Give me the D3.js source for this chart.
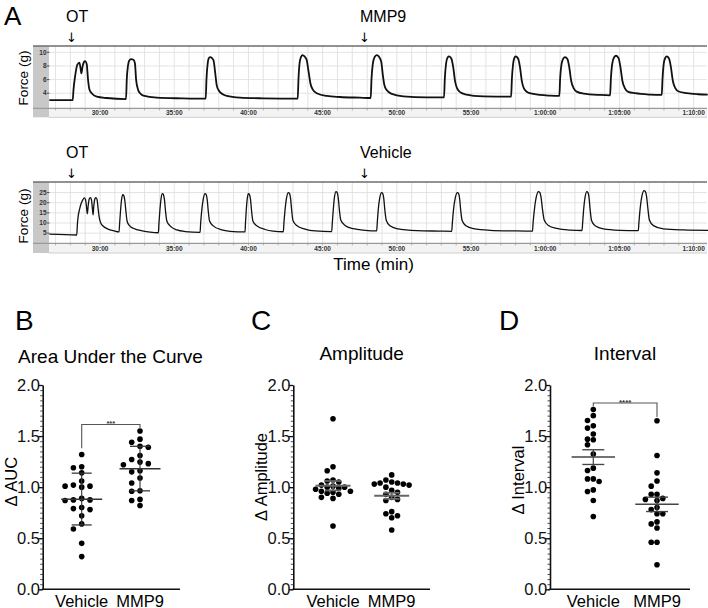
<!DOCTYPE html>
<html><head><meta charset="utf-8">
<script src="https://cdn.jsdelivr.net/npm/d3@7"></script>
<style>body{margin:0;background:#fff}svg{display:block}</style>
</head><body>
<svg id="c" width="708" height="608"></svg>
<script>
// ---------------- DATA ----------------
// Panel A traces: [time (min), force (g)]
const traceMMP9 = [
[26.58,3.0],[28.16,3.0],[28.21,4.5],[28.32,6.5],[28.47,8.2],[28.61,8.5],[28.69,7.6],[28.74,6.9],[28.82,7.9],[28.92,8.6],[28.99,8.7],[29.10,8.3],[29.19,6.0],[29.28,4.6],[29.44,4.0],[29.78,3.5],[30.45,3.3],[31.75,3.15],
[31.80,6.0],[31.88,8.0],[31.97,8.8],[32.09,9.0],[32.25,8.9],[32.35,8.4],[32.43,6.0],[32.55,4.6],[32.70,4.0],[32.92,3.65],[33.82,3.35],[35.5,3.25],[37.12,3.2],
[37.17,6.0],[37.25,8.3],[37.32,9.1],[37.41,9.3],[37.55,9.15],[37.65,8.8],[37.76,7.0],[37.86,5.2],[38.0,4.4],[38.3,3.8],[38.54,3.6],[39.43,3.35],[41.0,3.25],[43.32,3.2],
[43.37,6.0],[43.45,8.5],[43.54,9.3],[43.63,9.6],[43.78,9.4],[43.92,8.9],[44.05,7.2],[44.17,5.5],[44.35,4.5],[44.6,4.0],[45.28,3.6],[46.17,3.45],[47.5,3.35],[48.24,3.3],
[48.29,6.0],[48.38,8.3],[48.5,9.3],[48.64,9.6],[48.8,9.35],[48.95,8.6],[49.06,6.6],[49.16,5.2],[49.3,4.5],[49.66,3.9],[50.44,3.55],[52.0,3.4],[53.18,3.4],
[53.23,6.0],[53.32,8.4],[53.42,9.25],[53.52,9.4],[53.67,9.1],[53.8,7.8],[53.92,5.8],[54.06,4.7],[54.3,4.1],[54.6,3.85],[55.83,3.55],[57.7,3.5],
[57.75,6.0],[57.84,8.4],[57.92,9.2],[58.0,9.4],[58.17,9.1],[58.3,7.8],[58.42,5.8],[58.56,4.7],[58.8,4.15],[59.2,3.9],[60.32,3.65],[60.95,3.6],
[61.0,6.0],[61.1,8.3],[61.22,9.1],[61.33,9.3],[61.5,9.0],[61.62,7.8],[61.75,5.8],[61.9,4.8],[62.15,4.2],[62.57,3.95],[63.69,3.75],[64.37,3.7],
[64.42,6.0],[64.52,8.4],[64.65,9.3],[64.77,9.5],[64.94,9.15],[65.07,7.8],[65.2,5.8],[65.35,4.8],[65.6,4.2],[66.05,4.0],[67.06,3.8],[67.85,3.75],
[67.9,6.0],[67.99,8.4],[68.09,9.2],[68.18,9.4],[68.34,9.1],[68.47,7.8],[68.6,5.8],[68.75,4.8],[69.0,4.25],[69.53,4.0],[70.3,3.85],[70.95,3.8]
];
const traceVehicle = [
[26.58,4.5],[28.43,4.1],
[28.47,9],[28.52,13],[28.61,16.5],[28.72,19.5],[28.83,21.3],[28.94,22.4],[29.02,21.5],[29.08,18.5],[29.14,14.5],[29.2,18.5],[29.27,21.8],[29.34,22.5],[29.42,21.5],[29.48,17.5],[29.53,14],[29.58,18.5],[29.66,22],[29.73,22.5],[29.8,21.5],[29.87,17],[29.95,12.5],[30.05,10],[30.2,8.5],[30.54,7.0],[30.9,6.2],[31.28,5.6],
[31.32,10],[31.38,16],[31.45,21.5],[31.53,24],[31.6,23.5],[31.67,21],[31.74,16],[31.82,11],[31.97,8.8],[32.24,7.4],[32.92,6.0],[33.37,5.5],[33.93,5.2],
[33.97,10],[34.03,16],[34.11,22],[34.2,24.5],[34.27,24],[34.34,21.5],[34.41,16],[34.5,11],[34.72,8.6],[35.17,6.6],[35.73,5.8],[36.74,5.4],
[36.78,10],[36.85,16],[36.96,22],[37.07,24.5],[37.15,24],[37.22,21.5],[37.29,16],[37.38,11],[37.63,8.6],[38.2,6.6],[38.76,5.9],[39.77,5.6],
[39.8,10],[39.85,16],[39.92,22],[39.99,24.5],[40.07,24],[40.14,21.5],[40.21,16],[40.3,11],[40.56,8.6],[41.12,6.8],[41.66,6.0],[42.35,5.7],
[42.39,10],[42.46,16],[42.57,22.5],[42.69,25],[42.77,24.5],[42.84,22],[42.91,16.5],[43.0,11.2],[43.25,8.8],[43.81,7.0],[44.49,6.1],[45.61,5.8],
[45.65,10],[45.71,16],[45.8,23],[45.9,25.5],[45.98,25],[46.05,22.5],[46.12,17],[46.22,11.5],[46.51,8.8],[47.07,7.2],[47.86,6.4],[48.64,6.1],
[48.68,10],[48.74,16],[48.85,22.5],[48.97,25],[49.05,24.5],[49.12,22],[49.19,16.5],[49.29,11.2],[49.54,8.6],[49.99,7.2],[51.34,6.2],[52.91,6.0],[53.7,5.9],
[53.74,10],[53.81,16],[53.94,22.5],[54.08,25],[54.16,24.5],[54.23,22],[54.3,16.5],[54.4,11.2],[54.66,8.6],[55.16,7.2],[56.28,6.4],[57.97,6.1],[59.14,6.0],
[59.18,10],[59.26,16],[59.4,23],[59.54,25.5],[59.64,25],[59.72,22.5],[59.81,17],[59.93,11.5],[60.21,8.8],[60.78,7.3],[61.68,6.5],[62.48,6.3],
[62.52,10],[62.58,16],[62.69,23],[62.8,25.5],[62.88,25],[62.95,22.5],[63.02,17],[63.12,11.2],[63.36,8.6],[63.92,7.1],[65.04,6.4],[66.27,6.2],
[66.31,10],[66.38,16],[66.52,23.5],[66.66,26],[66.75,25.5],[66.83,23],[66.91,17.5],[67.02,11.5],[67.29,8.7],[67.96,7.1],[69.31,6.6],[70.97,6.4]
];
const timeTicks = [30,35,40,45,50,55,60,65,70];
const timeTickLabels = ["30:00","35:00","40:00","45:00","50:00","55:00","1:00:00","1:05:00","1:10:00"];
const forceTicksMMP9 = [4,6,8,10];
const forceTicksVehicle = [5,10,15,20,25];

// Panels B-D
const categories = ["Vehicle","MMP9"];
const aucVehicle = [1.32,1.19,1.20,1.14,1.06,1.01,1.02,1.01,1.00,0.875,0.87,0.875,0.89,0.79,0.78,0.80,0.72,0.64,0.59,0.45,0.32];
const aucMMP9    = [1.55,1.44,1.47,1.39,1.40,1.31,1.27,1.22,1.23,1.245,1.15,1.16,1.09,1.04,0.96,0.965,0.88,0.87,0.82];
const ampVehicle = [1.67,1.20,1.16,1.07,1.06,1.05,1.02,1.01,1.00,1.00,0.99,0.98,0.96,0.96,0.95,0.94,0.93,0.90,0.89,0.62];
const ampMMP9    = [1.12,1.07,1.05,1.04,1.04,1.03,1.03,1.02,1.00,0.97,0.95,0.93,0.90,0.88,0.87,0.76,0.74,0.72,0.70,0.58];
const intVehicle = [1.76,1.70,1.653,1.60,1.578,1.52,1.464,1.47,1.415,1.324,1.186,1.163,1.081,1.081,1.055,0.973,0.957,0.869,0.712];
const intMMP9    = [1.65,1.31,1.14,1.06,1.01,0.93,0.93,0.89,0.88,0.87,0.80,0.78,0.74,0.74,0.66,0.64,0.60,0.46,0.46,0.24];
// [mean, lower, upper]
const aucStats = [[0.882,0.630,1.137],[1.18,0.964,1.40]];
const ampStats = [[1.013,0.968,1.060],[0.915,0.885,0.945]];
const intStats = [[1.294,1.222,1.366],[0.833,0.761,0.902]];
const yTicks = [0,0.5,1.0,1.5,2.0];

// ---------------- DRAW ----------------
const svg = d3.select("#c");
const FONT = "'Liberation Sans', Arial, Helvetica, sans-serif";
svg.attr("font-family", FONT);

const xT = d3.scaleLinear().domain([26.56, 70.9]).range([49, 707]);

function tracePanel(cfg) {
  const g = svg.append("g");
  const y = d3.scaleLinear().domain(cfg.domain).range([cfg.bottom, cfg.top]);
  g.append("rect").attr("x",33).attr("y",cfg.top).attr("width",16).attr("height",cfg.strip-cfg.top).attr("fill","#c8c8c8");
  g.append("rect").attr("x",49).attr("y",cfg.bottom).attr("width",658).attr("height",cfg.strip-cfg.bottom).attr("fill","#f3f3f3");
  g.append("rect").attr("x",49).attr("y",cfg.top).attr("width",658).attr("height",cfg.bottom-cfg.top).attr("fill","#fff");
  const mins = d3.range(27, 71);
  g.selectAll(".vg").data(mins).join("line")
    .attr("x1",d=>xT(d)).attr("x2",d=>xT(d)).attr("y1",cfg.top).attr("y2",cfg.bottom)
    .attr("stroke","#dcdcdc").attr("stroke-width",0.8);
  g.selectAll(".hg").data(cfg.ticks).join("line")
    .attr("x1",49).attr("x2",707).attr("y1",d=>y(d)).attr("y2",d=>y(d))
    .attr("stroke","#dcdcdc").attr("stroke-width",0.8);
  g.selectAll(".mt").data(mins).join("line")
    .attr("x1",d=>xT(d)).attr("x2",d=>xT(d)).attr("y1",cfg.bottom).attr("y2",cfg.bottom+2)
    .attr("stroke","#999").attr("stroke-width",0.8);
  g.append("line").attr("x1",33).attr("x2",707).attr("y1",cfg.bottom).attr("y2",cfg.bottom).attr("stroke","#9a9a9a").attr("stroke-width",1.2);
  g.append("line").attr("x1",49).attr("x2",707).attr("y1",cfg.strip).attr("y2",cfg.strip).attr("stroke","#cfcfcf").attr("stroke-width",1);
  g.append("line").attr("x1",33).attr("x2",707).attr("y1",cfg.top).attr("y2",cfg.top).attr("stroke","#6e6e6e").attr("stroke-width",1.6);
  g.selectAll(".yt").data(cfg.ticks).join("line")
    .attr("x1",47).attr("x2",49.5).attr("y1",d=>y(d)).attr("y2",d=>y(d)).attr("stroke","#333").attr("stroke-width",0.8);
  g.selectAll(".yl").data(cfg.ticks).join("text")
    .attr("x",46.5).attr("y",d=>y(d)).attr("dy","0.34em").attr("text-anchor","end")
    .attr("font-size",6.5).attr("font-weight","bold").attr("fill","#333").text(d=>d);
  g.selectAll(".tl").data(timeTicks).join("text")
    .attr("x",d=>xT(d)).attr("y",cfg.strip-2.2).attr("text-anchor","middle")
    .attr("font-size",6.5).attr("font-weight","bold").attr("fill","#333")
    .text((d,i)=>timeTickLabels[i]);
  const line = d3.line().x(d=>xT(d[0])).y(d=>y(d[1])).curve(d3.curveMonotoneX);
  g.append("path").datum(cfg.data).attr("d",line).attr("fill","none")
    .attr("stroke","#111").attr("stroke-width",cfg.sw).attr("stroke-linejoin","round");
  g.append("text").attr("transform",`translate(${cfg.labX},${cfg.labY}) rotate(-90)`)
    .attr("text-anchor","middle").attr("font-size",13.5).text("Force (g)");
  g.append("text").attr("x",66).attr("y",cfg.annY).attr("font-size",16).text("OT");
  g.append("text").attr("x",360).attr("y",cfg.annY).attr("font-size",16).text(cfg.treat);
  [71.5, 364.5].forEach(ax=>{
    g.append("text").attr("x",ax).attr("y",cfg.arrY).attr("text-anchor","middle")
      .attr("font-family","'DejaVu Sans', sans-serif").attr("font-size",13).attr("fill","#000")
      .attr("opacity",0.999).text("\u2193");
  });
}

tracePanel({top:46, bottom:108.3, strip:117.3, domain:[1.79,10.93], ticks:forceTicksMMP9,
  data:traceMMP9, sw:1.8, labX:28, labY:78, annY:22, arrY:41.5, treat:"MMP9"});
tracePanel({top:182, bottom:243.3, strip:253, domain:[0,30.2], ticks:forceTicksVehicle,
  data:traceVehicle, sw:1.3, labX:28, labY:216, annY:158, arrY:177.5, treat:"Vehicle"});

svg.append("text").attr("x",373.5).attr("y",270).attr("text-anchor","middle").attr("font-size",17).text("Time (min)");

[["A",4,25,26],["B",15,330,28],["C",251,330,28],["D",499,330,28]].forEach(([t,x,yy,fs])=>{
  svg.append("text").attr("x",x).attr("y",yy).attr("font-size",fs).text(t);
});

// ---------------- Scatter panels ----------------
const yS = d3.scaleLinear().domain([0,2]).range([589.3,385]);

function swarm(vals, cx, step, r) {
  const pts = vals.map(v=>({v, y:yS(v)})).sort((a,b)=>a.y-b.y);
  const placed = [];
  const minD = 2*r;
  pts.forEach(p=>{
    for (let k=0;k<30;k++){
      const off = k===0?0:(k%2? -Math.ceil(k/2): Math.ceil(k/2));
      const x = cx+off*step;
      if (placed.every(q=> (q.x-x)**2+(q.y-p.y)**2 >= minD*minD - 0.01)) { p.x=x; placed.push(p); break; }
    }
  });
  return placed;
}

function scatterPanel(cfg) {
  const g = svg.append("g");
  const x = d3.scalePoint().domain(categories).range(cfg.cats);
  g.append("text").attr("x",cfg.titleX).attr("y",cfg.titleY).attr("text-anchor","middle").attr("font-size",19).text(cfg.title);
  g.append("text").attr("transform",`translate(${cfg.ylabX},${cfg.ylabY}) rotate(-90)`)
    .attr("text-anchor","middle").attr("dy","0.35em").attr("font-size",16.5).text(cfg.ylab);
  const minor = g.append("g").attr("transform",`translate(${cfg.axisX},0)`)
    .call(d3.axisLeft(yS).tickValues(d3.range(0,2.0001,0.05)).tickSize(2.5).tickFormat(""));
  minor.select(".domain").remove();
  minor.selectAll("line").attr("stroke","#222").attr("stroke-width",0.8);
  const ax = g.append("g").attr("transform",`translate(${cfg.axisX},0)`)
    .call(d3.axisLeft(yS).tickValues(yTicks).tickFormat(d3.format(".1f")).tickSize(4.5).tickSizeOuter(0).tickPadding(-1.7));
  ax.select(".domain").attr("stroke","#111").attr("stroke-width",1.6);
  ax.selectAll(".tick line").attr("stroke","#111").attr("stroke-width",1.3);
  ax.selectAll("text").attr("font-size",16.5).attr("font-family",FONT).attr("fill","#111");
  g.append("line").attr("x1",cfg.axisX-0.8).attr("x2",cfg.right).attr("y1",yS(0)).attr("y2",yS(0))
    .attr("stroke","#111").attr("stroke-width",1.6);
  g.selectAll(".cl").data(categories).join("text")
    .attr("x",d=>x(d)).attr("y",606.5).attr("text-anchor","middle").attr("font-size",16.5).text(d=>d);
  cfg.series.forEach((vals,i)=>{
    const pts = swarm(vals, x(categories[i]), cfg.step, cfg.r);
    g.selectAll(null).data(pts).join("circle")
      .attr("cx",d=>d.x).attr("cy",d=>d.y).attr("r",cfg.r).attr("fill","#000");
  });
  cfg.stats.forEach((s,i)=>{
    const cx = x(categories[i]);
    const [m,lo,hi] = s;
    g.append("line").attr("x1",cx-cfg.mw).attr("x2",cx+cfg.mw).attr("y1",yS(m)).attr("y2",yS(m))
      .attr("stroke",cfg.barColor).attr("stroke-width",cfg.barW);
    g.append("line").attr("x1",cx).attr("x2",cx).attr("y1",yS(lo)).attr("y2",yS(hi))
      .attr("stroke",cfg.barColor).attr("stroke-width",cfg.barW*0.8);
    [lo,hi].forEach(v=>{
      g.append("line").attr("x1",cx-cfg.cw).attr("x2",cx+cfg.cw).attr("y1",yS(v)).attr("y2",yS(v))
        .attr("stroke",cfg.barColor).attr("stroke-width",cfg.barW*0.9);
    });
  });
  if (cfg.sig) {
    const [lvl, lEnd, rEnd, txt, fs] = cfg.sig;
    const x1 = x(categories[0]), x2 = x(categories[1]);
    g.append("path").attr("d",`M${x1},${yS(lEnd)}V${yS(lvl)}H${x2}V${yS(rEnd)}`)
      .attr("fill","none").attr("stroke","#555").attr("stroke-width",1.1);
    g.append("text").attr("x",(x1+x2)/2).attr("y",yS(lvl)-2.6+fs*0.55).attr("text-anchor","middle")
      .attr("font-size",fs).attr("font-weight","bold").attr("fill","#333").text(txt);
  }
}

scatterPanel({title:"Area Under the Curve", titleX:110.5, titleY:362.7, ylab:"Δ AUC", ylabX:11.5, ylabY:481.7,
  axisX:42.7, right:180, cats:[81.7,140], series:[aucVehicle,aucMMP9], stats:aucStats,
  step:8.3, r:2.8, mw:20.5, cw:10, barColor:"#333", barW:1.4, sig:[1.614,1.382,1.578,"***",7.5]});
scatterPanel({title:"Amplitude", titleX:361.7, titleY:360, ylab:"Δ Amplitude", ylabX:261.5, ylabY:477,
  axisX:293.3, right:430, cats:[333,391.7], series:[ampVehicle,ampMMP9], stats:ampStats,
  step:5.8, r:2.8, mw:17.5, cw:8, barColor:"#666", barW:2, sig:null});
scatterPanel({title:"Interval", titleX:625, titleY:360, ylab:"Δ Interval", ylabX:518.3, ylabY:480,
  axisX:550, right:690, cats:[593.3,657], series:[intVehicle,intMMP9], stats:intStats,
  step:5.8, r:2.8, mw:21.7, cw:11, barColor:"#444", barW:1.5, sig:[1.824,1.79,1.686,"****",8]});
</script>
</body></html>
